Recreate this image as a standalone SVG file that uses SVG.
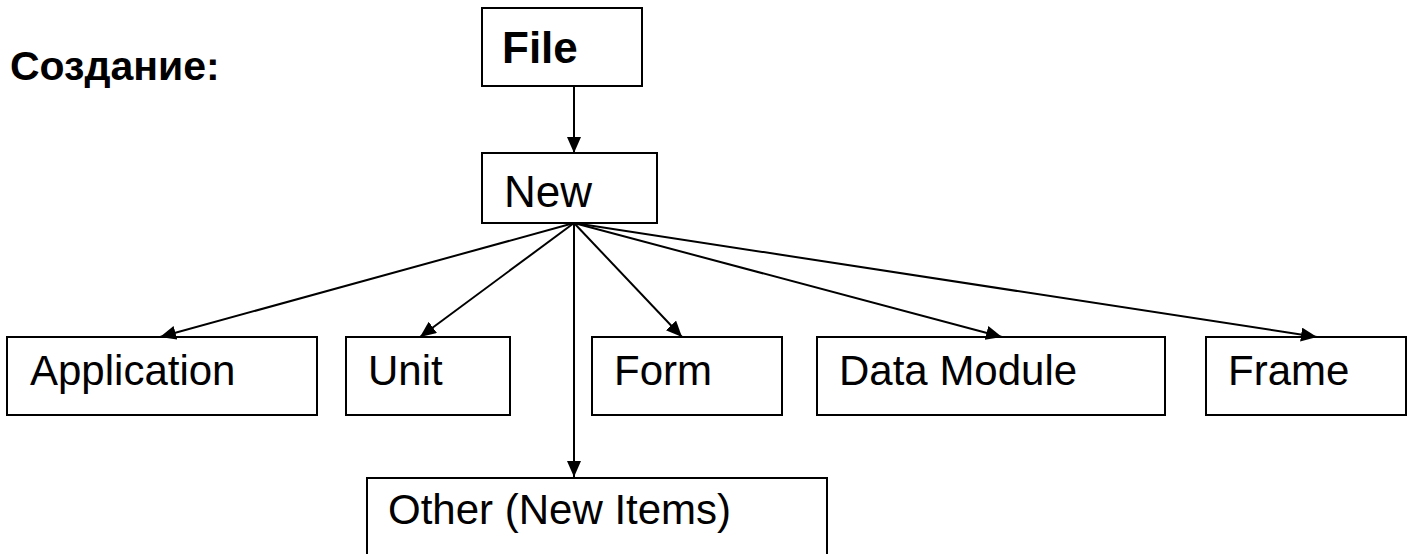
<svg xmlns="http://www.w3.org/2000/svg" width="1408" height="554" viewBox="0 0 1408 554">
  <style>
    .box { fill: #ffffff; stroke: #000000; stroke-width: 2; }
    .lbl { font-family: "Liberation Sans", Arial, sans-serif; font-size: 42px; fill: #000000; }
    .big { font-size: 44px; }
    .title { font-size: 41px; }
    .bold { font-weight: bold; }
    .edge { stroke: #000000; stroke-width: 2; fill: none; marker-end: url(#arrow); }
  </style>
  <defs>
    <marker id="arrow" markerUnits="userSpaceOnUse" markerWidth="17" markerHeight="16" refX="16" refY="7" orient="auto">
      <path d="M0,0 L16,7 L0,14 z" fill="#000000"/>
    </marker>
  </defs>

  <text class="lbl title bold" x="10" y="80">Создание:</text>

  <g id="file">
    <rect class="box" x="482" y="8" width="160" height="78"/>
    <text class="lbl big bold" x="502" y="63">File</text>
  </g>
  <g id="new">
    <rect class="box" x="482" y="153" width="175" height="70"/>
    <text class="lbl big" x="504" y="207">New</text>
  </g>
  <g id="application">
    <rect class="box" x="7" y="337" width="310" height="78"/>
    <text class="lbl" x="30" y="385">Application</text>
  </g>
  <g id="unit">
    <rect class="box" x="346" y="337" width="164" height="78"/>
    <text class="lbl" x="368" y="385">Unit</text>
  </g>
  <g id="form">
    <rect class="box" x="592" y="337" width="190" height="78"/>
    <text class="lbl" x="614" y="385">Form</text>
  </g>
  <g id="data-module">
    <rect class="box" x="817" y="337" width="348" height="78"/>
    <text class="lbl" x="839" y="385">Data Module</text>
  </g>
  <g id="frame">
    <rect class="box" x="1206" y="337" width="200" height="78"/>
    <text class="lbl" x="1228" y="385">Frame</text>
  </g>
  <g id="other">
    <rect class="box" x="367" y="478" width="460" height="90"/>
    <text class="lbl" x="388" y="524">Other (New Items)</text>
  </g>

  <g id="connectors">
    <line class="edge" x1="574" y1="86" x2="574" y2="153"/>
    <line class="edge" x1="574" y1="223" x2="160" y2="337"/>
    <line class="edge" x1="574" y1="223" x2="420" y2="337"/>
    <line class="edge" x1="574" y1="223" x2="574" y2="477"/>
    <line class="edge" x1="574" y1="223" x2="682" y2="337"/>
    <line class="edge" x1="574" y1="223" x2="1002" y2="337"/>
    <line class="edge" x1="574" y1="223" x2="1317" y2="337"/>
  </g>
</svg>
